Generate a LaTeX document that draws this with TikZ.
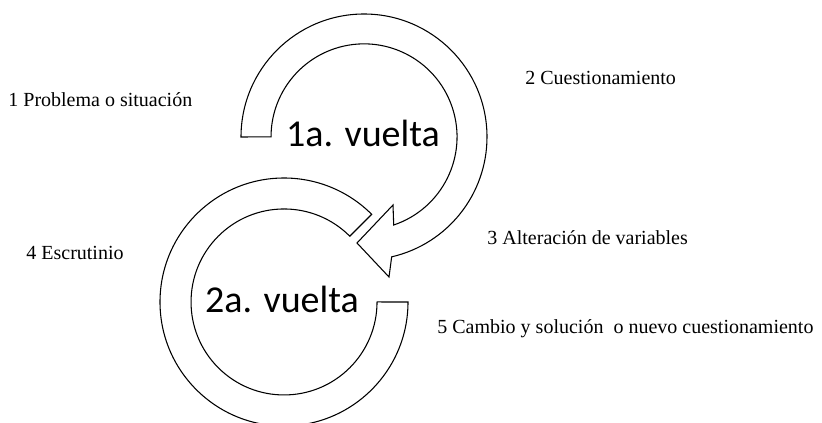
\documentclass[tikz,border=0pt]{standalone}
\usepackage{fontspec}
\setmainfont{Liberation Serif}
\newfontfamily\vueltafont{Carlito}

\begin{document}
\begin{tikzpicture}[x=0.75pt, y=0.75pt, semithick,
    band/.style={draw, fill=white, line width=0.8pt, line join=miter},
    paso/.style={anchor=base west, inner sep=0pt, font=\fontsize{15}{18}\selectfont},
    vuelta/.style={anchor=base, inner sep=0pt, font=\vueltafont\fontsize{28.5}{32}\selectfont}]

    \useasboundingbox (0,0) rectangle (822,422);

    % 2a. vuelta (ring without head)
    \draw[band] (408,120) arc[start angle=0, end angle=-315, radius=124]
        -- (349.8,185.8) arc[start angle=45, end angle=360, radius=93] -- cycle;

    % 1a. vuelta (ring with head)
    \draw[band] (241,285) arc[start angle=180, end angle=-77, radius=123]
        -- (389,145) -- (357,179) -- (393,217)
        -- (393.7,197) arc[start angle=-71.4, end angle=180, radius=93] -- cycle;

    \node[vuelta] (vuelta1) at (363,275) {1a. vuelta};
    \node[vuelta] (vuelta2) at (282,109) {2a. vuelta};

    \node[paso] (problema)   at (8,315)   {1 Problema o situación};
    \node[paso] (cuestion)   at (525,337) {2 Cuestionamiento};
    \node[paso] (alteracion) at (487,177) {3 Alteración de variables};
    \node[paso] (escrutinio) at (26,162)  {4 Escrutinio};
    \node[paso] (cambio)     at (437,89)  {5 Cambio y solución\ \ o nuevo cuestionamiento};

\end{tikzpicture}
\end{document}
